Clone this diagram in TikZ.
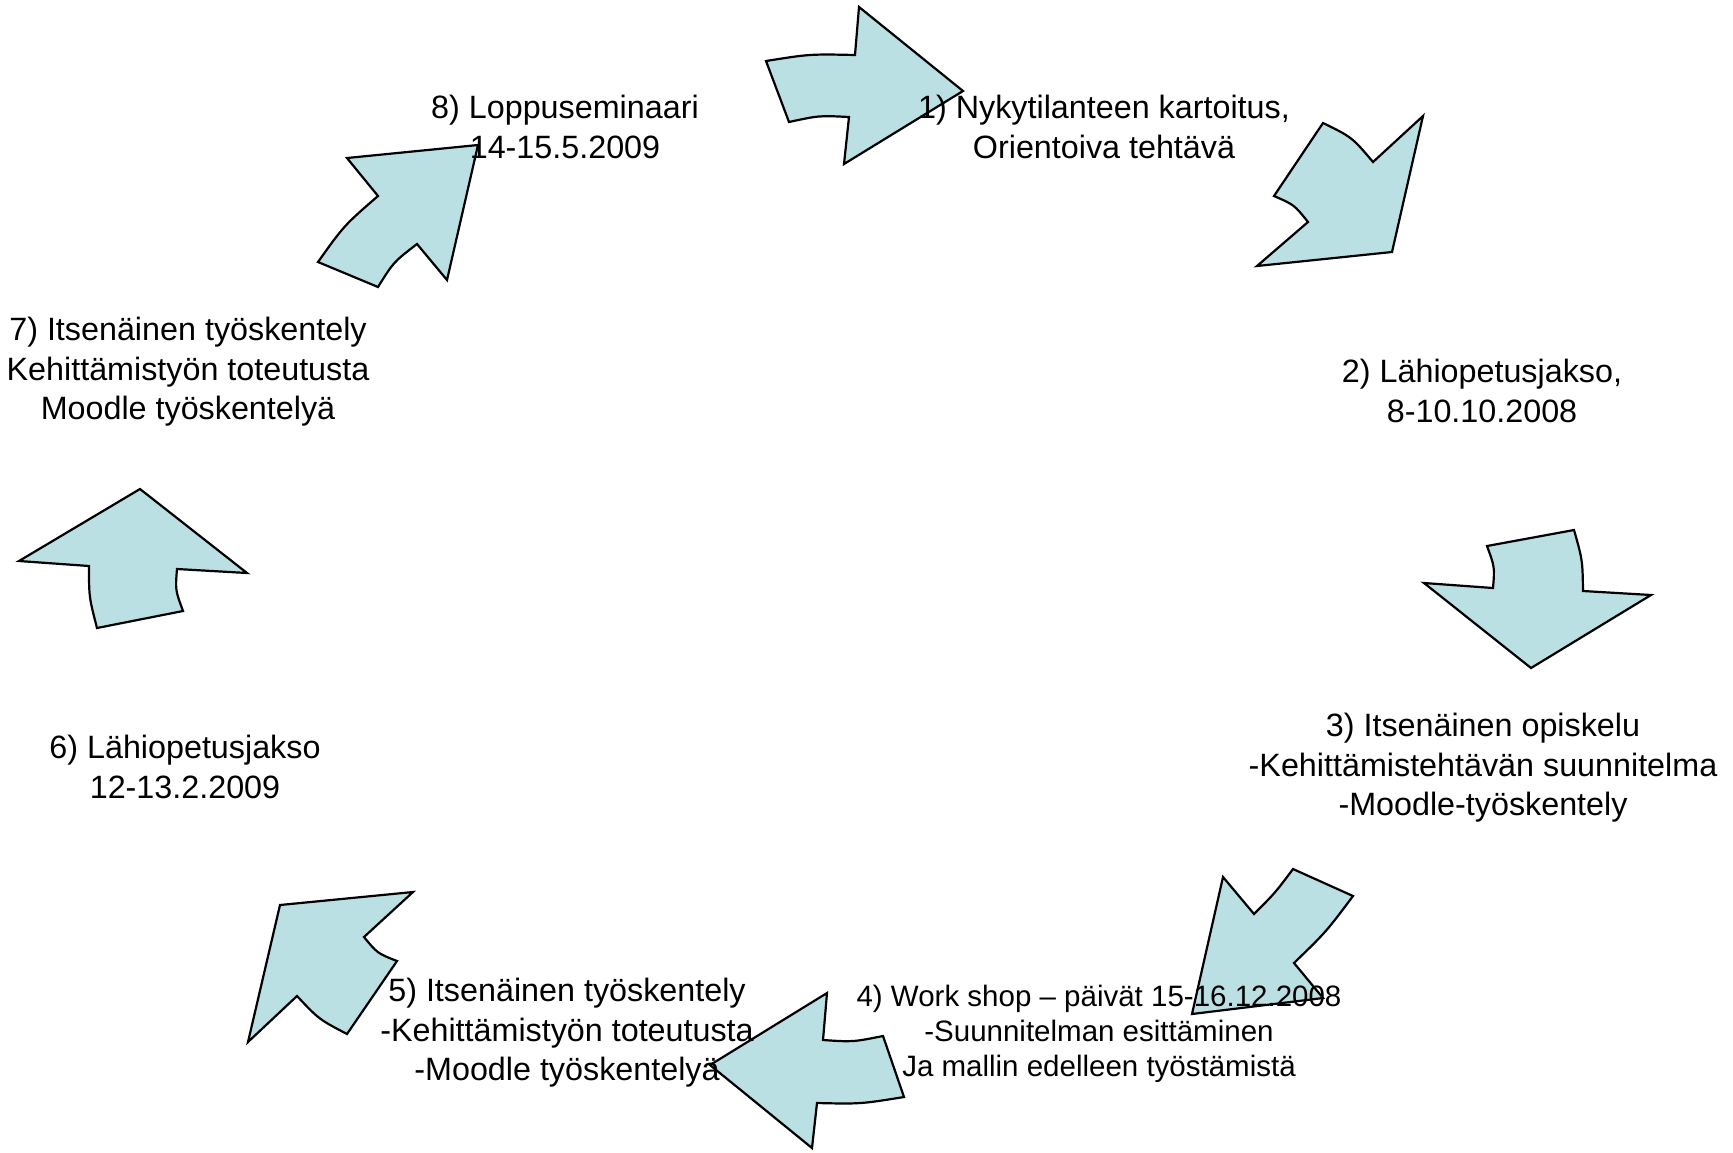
\documentclass[tikz,border=0pt]{standalone}
\usepackage{fontspec}
\setmainfont{Liberation Sans}
\definecolor{arrowfill}{RGB}{187,224,228}
\begin{document}
\begin{tikzpicture}[x=0.5pt,y=-0.5pt,
  blockarrow/.style={draw=black,fill=arrowfill,line width=1.1pt,line join=miter},
  lbl/.style={align=center,font=\fontsize{16.15}{19.7}\selectfont,inner sep=0pt},
  smalllbl/.style={align=center,font=\fontsize{14.75}{17.6}\selectfont,inner sep=0pt}]
\useasboundingbox (0,0) rectangle (1733,1152);
% arrow 1 (top, pointing right)
\draw[blockarrow] (766,61) .. controls (810,54) .. (855,55) -- (859,7) -- (963,91) -- (844,164) -- (849,117) .. controls (819,115.5) .. (789,122) -- cycle;
% arrow 2 (top right, pointing down-left)
\draw[blockarrow] (1323,123) .. controls (1352,137.2) .. (1373,162) -- (1423,116) -- (1392,252) -- (1257,266) -- (1308,222) .. controls (1294.2,204.8) .. (1274,196) -- cycle;
% arrow 3 (right, pointing down)
\draw[blockarrow] (1487,546) -- (1574,530) .. controls (1582.5,560) .. (1583,591) -- (1651,595) -- (1531,668) -- (1424,583) -- (1493,588) .. controls (1494.7,567) .. cycle;
% arrow 4 (lower right, pointing down-left)
\draw[blockarrow] (1293,869) -- (1353,896) .. controls (1326,932) .. (1294,963) -- (1323,998) -- (1192,1014) -- (1223,877) -- (1254,914) .. controls (1275,893) .. cycle;
% arrow 5 (bottom, pointing left)
\draw[blockarrow] (827,993) -- (823,1040) .. controls (853,1042) .. (883,1036) -- (904,1097) .. controls (860.5,1104) .. (817,1103) -- (812,1148) -- (710,1065) -- cycle;
% arrow 6 (lower left, pointing up-left)
\draw[blockarrow] (413,892) -- (364,937) .. controls (377.4,953.3) .. (397,961) -- (347,1034) .. controls (318.8,1019.2) .. (297,996) -- (248,1042) -- (280,905) -- cycle;
% arrow 7 (left, pointing up)
\draw[blockarrow] (140,489) -- (247,573) -- (177,569) .. controls (175.3,590) .. (183,611) -- (97,628) .. controls (89,597) .. (89,566) -- (19,561) -- cycle;
% arrow 8 (top left, pointing up-right)
\draw[blockarrow] (478,145) -- (447,280) -- (417,244) .. controls (393.6,262) .. (378,287) -- (318,262) .. controls (344.1,225.4) .. (378,196) -- (347,158) -- cycle;
% labels
\node[lbl] (t8) at (565,127) {8) Loppuseminaari\\14-15.5.2009};
\node[lbl] (t1) at (1104,127) {1) Nykytilanteen kartoitus,\\Orientoiva tehtävä};
\node[lbl] (t2) at (1482,391) {2) Lähiopetusjakso,\\8-10.10.2008};
\node[lbl] (t3) at (1483,768) {3) Itsenäinen opiskelu\\-Kehittämistehtävän suunnitelma\\-Moodle-työskentely};
\node[smalllbl] (t4) at (1099,1034) {4) Work shop – päivät 15-16.12.2008\\-Suunnitelman esittäminen\\Ja mallin edelleen työstämistä};
\node[lbl] (t5) at (567,1033) {5) Itsenäinen työskentely\\-Kehittämistyön toteutusta\\-Moodle työskentelyä};
\node[lbl] (t6) at (185,767) {6) Lähiopetusjakso\\12-13.2.2009};
\node[lbl] (t7) at (188,372) {7) Itsenäinen työskentely\\Kehittämistyön toteutusta\\Moodle työskentelyä};
\end{tikzpicture}
\end{document}
